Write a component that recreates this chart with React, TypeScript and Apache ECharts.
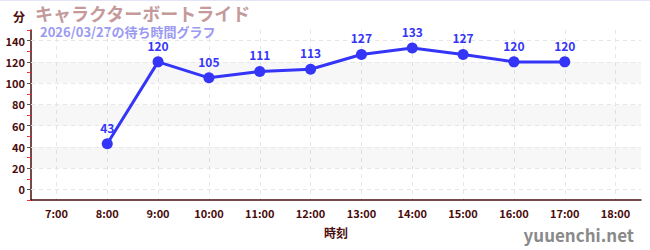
import React, { useEffect, useRef } from "react";
import * as echarts from "echarts";

const hours = ["7:00", "8:00", "9:00", "10:00", "11:00", "12:00", "13:00", "14:00", "15:00", "16:00", "17:00", "18:00"];
const waits: (number | null)[] = [null, 43, 120, 105, 111, 113, 127, 133, 127, 120, 120, null];
const yTicks = [0, 20, 40, 60, 80, 100, 120, 140];
const bands: [number, number][] = [[20, 40], [60, 80], [100, 120]];
const yMin = -10;
const yMax = 150;
const title = "キャラクターボートライド";
const subtitle = "2026/03/27の待ち時間グラフ";
const yName = "分";
const xName = "時刻";
const site = "yuuenchi.net";

const AXIS = "#4a0c0c";
const BLUE = "#3535f7";
const FONT = "'Noto Sans CJK JP', 'Noto Sans', sans-serif";

export default function App() {
  const ref = useRef<HTMLDivElement>(null);
  useEffect(() => {
    if (!ref.current) return;
    const chart = echarts.init(ref.current, null, { renderer: "svg" });
    chart.setOption({
      animation: false,
      textStyle: { fontFamily: FONT },
      grid: { left: 31, right: 9, top: 30, bottom: 50, containLabel: false },
      graphic: [
        { type: "line", shape: { x1: 0, y1: 0.5, x2: 650, y2: 0.5 }, style: { stroke: "#e4e4f8", lineWidth: 1 } },
        { type: "text", left: 13, top: 10, style: { text: yName, fontSize: 12, lineHeight: 12, fontWeight: "bold", fill: AXIS, fontFamily: FONT } },
        { type: "text", left: 35, top: 4, style: { text: title, fontSize: 18, lineHeight: 18, fontWeight: "bold", fill: "#c49a9a", fontFamily: FONT } },
        { type: "text", left: 40, top: 25, style: { text: subtitle, fontSize: 13, lineHeight: 13, fontWeight: "bold", fill: "#9a9af2", fontFamily: FONT } },
        { type: "text", right: 16, top: 226, style: { text: site, fontSize: 17, lineHeight: 17, fontWeight: "bold", fill: "#8a8a8a", fontFamily: FONT } },
      ],
      xAxis: {
        type: "category",
        data: hours,
        boundaryGap: true,
        name: xName,
        nameLocation: "middle",
        nameGap: 26,
        nameTextStyle: { color: AXIS, fontSize: 12, fontWeight: "bold" },
        axisLine: { onZero: false, lineStyle: { color: AXIS, width: 1.5 } },
        axisTick: { alignWithLabel: true, length: 4, lineStyle: { color: "#666" } },
        axisLabel: { color: AXIS, fontSize: 11, fontWeight: "bold", margin: 7 },
        splitLine: { show: true, alignWithLabel: true, lineStyle: { color: "#e6e6e6", type: [4, 4] } },
      },
      yAxis: [
        {
          type: "value",
          min: yMin,
          max: yMax,
          minInterval: 20,
          maxInterval: 20,
          axisLine: { show: true, onZero: false, lineStyle: { color: AXIS, width: 1.5 } },
          axisTick: { show: true, length: 4, lineStyle: { color: "#555" } },
          axisLabel: {
            color: AXIS,
            fontSize: 11,
            fontWeight: "bold",
            margin: 6,
            showMinLabel: false,
            showMaxLabel: false,
            formatter: (v: number) => (yTicks.includes(v) ? String(v) : ""),
          },
          splitLine: { show: false },
        },
        {
          type: "value",
          position: "left",
          min: yMin,
          max: yMax,
          interval: 20,
          axisLine: { show: false, onZero: false },
          axisTick: { show: true, length: 4, lineStyle: { color: "#f03030" } },
          axisLabel: { show: false },
          splitLine: { show: false },
        },
      ],
      series: [
        {
          type: "line",
          data: waits,
          yAxisIndex: 0,
          z: 5,
          symbol: "circle",
          symbolSize: 11,
          lineStyle: { color: BLUE, width: 3 },
          itemStyle: { color: BLUE },
          label: { show: true, position: "top", distance: 5, color: BLUE, fontSize: 12, fontWeight: "bold" },
          markArea: {
            silent: true,
            z: 0,
            itemStyle: { color: "rgba(0,0,0,0.032)" },
            label: { show: false },
            data: bands.map(([a, b]) => [{ yAxis: a }, { yAxis: b }]),
          },
          markLine: {
            silent: true,
            z: 1,
            symbol: "none",
            label: { show: false },
            lineStyle: { color: "#e6e6e6", type: [4, 4], width: 1 },
            data: yTicks.map((v) => ({ yAxis: v })),
          },
        },
      ],
    });
    return () => chart.dispose();
  }, []);
  return <div ref={ref} style={{ position: "absolute", left: 0, top: 0, width: 650, height: 250 }} />;
}
